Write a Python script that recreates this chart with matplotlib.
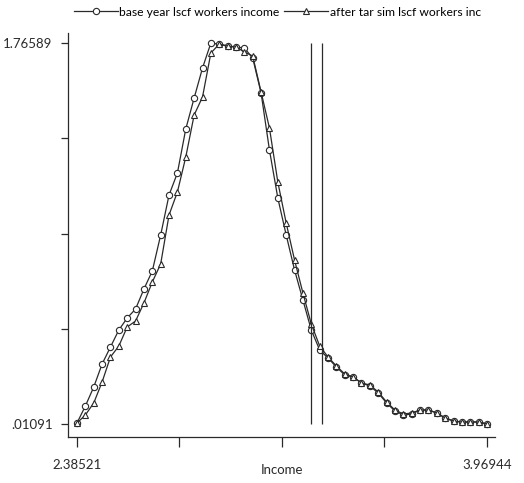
import numpy as np
import matplotlib
matplotlib.use("Agg")
import matplotlib.pyplot as plt
from matplotlib.lines import Line2D

# Kernel density evaluation grid (income, log scale)
x_min, x_max = 2.38521, 3.96944
y_min, y_max = 0.01091, 1.76589
income = np.linspace(x_min, x_max, 50)

base_year = [
    0.0155, 0.0938, 0.1813, 0.2873, 0.3656, 0.4439, 0.4992, 0.5406, 0.6327, 0.7156,
    0.8815, 1.0657, 1.1671, 1.3697, 1.5125, 1.6507, 1.7659, 1.7600, 1.7520, 1.7474,
    1.7428, 1.6968, 1.5356, 1.2730, 1.0519, 0.8815, 0.7203, 0.5821, 0.4439, 0.3518,
    0.3149, 0.2735, 0.2366, 0.2274, 0.1998, 0.1859, 0.1537, 0.1076, 0.0708, 0.0524,
    0.0570, 0.0754, 0.0754, 0.0616, 0.0385, 0.0247, 0.0201, 0.0201, 0.0201, 0.0109,
]

after_tariff = [
    0.0155, 0.0524, 0.1076, 0.2044, 0.3195, 0.3702, 0.4577, 0.4853, 0.5683, 0.6650,
    0.7479, 0.9736, 1.0795, 1.2408, 1.4342, 1.5171, 1.7198, 1.7610, 1.7520, 1.7474,
    1.7244, 1.7060, 1.5402, 1.3743, 1.1256, 0.9367, 0.7663, 0.6143, 0.4715, 0.3702,
    0.3195, 0.2781, 0.2412, 0.2274, 0.1998, 0.1905, 0.1583, 0.1122, 0.0754, 0.0570,
    0.0616, 0.0754, 0.0754, 0.0616, 0.0385, 0.0247, 0.0201, 0.0201, 0.0201, 0.0109,
]

# Reference lines (poverty thresholds)
vlines_x = [3.2894, 3.3319]

labels = ["base year lscf workers income", "after tar sim lscf workers inc"]

plt.rcParams["font.family"] = ["Lato", "DejaVu Sans"]

fig = plt.figure(figsize=(5.24, 4.83), dpi=100)
W, H = 524, 483
left, right, top, bottom = 68, 495, 33, 437
ax = fig.add_axes([left / W, 1 - bottom / H, (right - left) / W, (bottom - top) / H])

line_col = "#2a2a2a"
ax.plot(income, base_year, color=line_col, lw=0.9, marker="o", ms=4.5,
        mfc="white", mec=line_col, mew=0.8)
ax.plot(income, after_tariff, color=line_col, lw=0.9, marker="^", ms=5,
        mfc="white", mec=line_col, mew=0.8)
ax.vlines(vlines_x, y_min, y_max, color=line_col, lw=0.9)

xpx = (x_max - x_min) / 410.0
ypx = (y_max - y_min) / 381.0
ax.set_xlim(x_min - 9 * xpx, x_max + 8 * xpx)
ax.set_ylim(y_min - 13 * ypx, y_max + 10 * ypx)

xt = np.linspace(x_min, x_max, 5)
ax.set_xticks(xt)
ax.set_xticklabels(["2.38521", "", "", "", "3.96944"])
yt = np.linspace(y_min, y_max, 5)
ax.set_yticks(yt)
ax.set_yticklabels([".01091", "", "", "", "1.76589"])

for s in ["top", "right"]:
    ax.spines[s].set_visible(False)
for s in ["left", "bottom"]:
    ax.spines[s].set_linewidth(0.9)
    ax.spines[s].set_color(line_col)

ax.tick_params(axis="x", direction="out", length=7, width=0.9, pad=9,
               labelsize=9.5, colors=line_col)
ax.tick_params(axis="y", direction="out", length=5, width=0.9, pad=6,
               labelsize=9.5, colors=line_col)
ax.set_xlabel("Income", fontsize=9.5, color=line_col, labelpad=-5)

handles = [
    Line2D([], [], color=line_col, lw=0.9, marker="o", ms=4.5, mfc="white",
           mec=line_col, mew=0.8),
    Line2D([], [], color=line_col, lw=0.9, marker="^", ms=5, mfc="white",
           mec=line_col, mew=0.8),
]
fig.legend(handles, labels, ncol=2, frameon=False, loc="center",
           bbox_to_anchor=(277.5 / W, 1 - 12 / H), fontsize=8.7, handlelength=3.6,
           handletextpad=0.15, columnspacing=0.4, borderpad=0)

fig.savefig("out.png", dpi=100)
